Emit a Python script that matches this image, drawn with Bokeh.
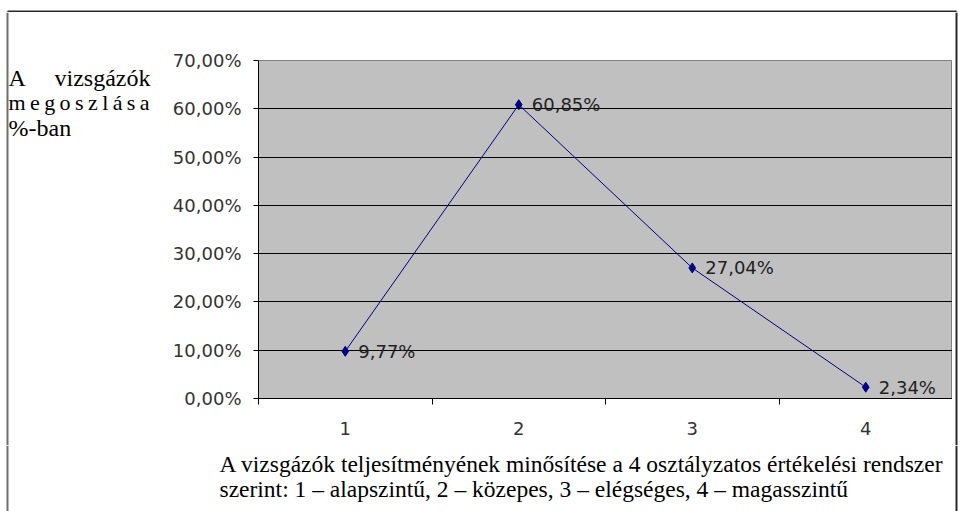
from bokeh.plotting import figure
from bokeh.layouts import column, row
from bokeh.models import Range1d, FixedTicker, ColumnDataSource
from bokeh.core.properties import value
from bokeh.embed import file_html
from bokeh.resources import INLINE

# ---- data ----
categories = [1, 2, 3, 4]
shares = [9.77, 60.85, 27.04, 2.34]
share_labels = ["9,77%", "60,85%", "27,04%", "2,34%"]
y_ticks = [0, 10, 20, 30, 40, 50, 60, 70]
y_tick_labels = ["0,00%", "10,00%", "20,00%", "30,00%", "40,00%", "50,00%", "60,00%", "70,00%"]
x_tick_labels = ["1", "2", "3", "4"]
y_title_words = ["A", "vizsgázók",
                 "\u2009".join("megoszlása"),
                 "%-ban"]
caption_lines = [
    "A vizsgázók teljesítményének minősítése a 4 osztályzatos értékelési rendszer",
    "szerint: 1 – alapszintű, 2 – közepes, 3 – elégséges, 4 – magasszintű",
]

W, H = 960, 511
TOP_H = 12          # strip holding the outer frame's top edge
MID_H = 433         # row with title + chart
CAP_H = H - TOP_H - MID_H
LEFT_W = 160
RIGHT_W = 8
MAIN_W = W - LEFT_W - RIGHT_W
FRAME_TOP, FRAME_BOTTOM = 60, 398   # chart plot area in page px
FRAME_LEFT = 258

BOX_L, BOX_R, BOX_T = 7, 956, 11
BOX_LEFT_COLOR, BOX_COLOR = "#6e6e6e", "#2a2a2a"
SERIF = "Liberation Serif"


def blank(w, h, y0, x0=0):
    """Plain drawing surface whose coordinates are page pixels (y downwards)."""
    f = figure(width=w, height=h, output_backend="svg", toolbar_location=None,
               x_range=Range1d(x0, x0 + w), y_range=Range1d(y0 + h, y0),
               x_axis_type=None, y_axis_type=None,
               min_border=0, min_border_left=0, min_border_right=0,
               min_border_top=0, min_border_bottom=0)
    f.frame_align = False
    f.outline_line_color = None
    f.grid.visible = False
    f.background_fill_color = "white"
    f.border_fill_color = "white"
    return f


def serif_text(f, xs, ys, texts, align="left", size="24px"):
    f.text(xs, ys, text=texts, text_align=align, text_baseline="alphabetic",
           text_font=value(SERIF), text_font_size=size, text_color="black")


# ---- top strip (outer frame top edge) ----
top = blank(W, TOP_H, 0)
top.line([BOX_L, BOX_R], [BOX_T, BOX_T], line_color=BOX_COLOR, line_width=2)
top.line([BOX_L, BOX_L], [BOX_T, TOP_H], line_color=BOX_LEFT_COLOR, line_width=2)
top.line([BOX_R, BOX_R], [BOX_T, TOP_H], line_color=BOX_COLOR, line_width=2)

# ---- left title ----
left = blank(LEFT_W, MID_H, TOP_H)
left.line([BOX_L, BOX_L], [TOP_H, TOP_H + MID_H], line_color=BOX_LEFT_COLOR, line_width=2)
serif_text(left, [8], [77], [y_title_words[0]])
serif_text(left, [150], [77], [y_title_words[1]], align="right")
serif_text(left, [8], [102], [y_title_words[2]], size="22px")
serif_text(left, [8], [127], [y_title_words[3]])

# ---- main chart ----
p = figure(width=MAIN_W, height=MID_H, output_backend="svg", toolbar_location=None,
           x_range=Range1d(0.5, 4.5), y_range=Range1d(0, 70),
           min_border_left=FRAME_LEFT - LEFT_W, min_border_right=0,
           min_border_top=FRAME_TOP - TOP_H,
           min_border_bottom=TOP_H + MID_H - FRAME_BOTTOM)
p.frame_align = False
p.background_fill_color = "#C0C0C0"
p.border_fill_color = "white"
p.outline_line_color = "#808080"

p.yaxis.ticker = FixedTicker(ticks=y_ticks)
p.yaxis.major_label_overrides = {t: s for t, s in zip(y_ticks, y_tick_labels)}
p.yaxis.major_tick_out = 5
p.yaxis.major_tick_in = 0
p.yaxis.minor_tick_out = 0
p.yaxis.minor_tick_in = 0
p.yaxis.major_label_standoff = 12
p.yaxis.axis_line_color = "black"
p.yaxis.major_tick_line_color = "black"

p.xaxis.ticker = FixedTicker(ticks=categories, minor_ticks=[0.5, 1.5, 2.5, 3.5, 4.5])
p.xaxis.major_label_overrides = {c: s for c, s in zip(categories, x_tick_labels)}
p.xaxis.major_tick_out = 0
p.xaxis.major_tick_in = 0
p.xaxis.minor_tick_out = 6
p.xaxis.minor_tick_in = 0
p.xaxis.minor_tick_line_color = "black"
p.xaxis.major_label_standoff = 17
p.xaxis.axis_line_color = "black"

for ax in (p.xaxis, p.yaxis):
    ax.major_label_text_font = "DejaVu Sans"
    ax.major_label_text_font_size = "18px"
    ax.major_label_text_color = "#333333"

p.xgrid.visible = False
p.ygrid.ticker = FixedTicker(ticks=y_ticks[1:-1])
p.ygrid.grid_line_color = "black"
p.ygrid.grid_line_width = 1

src = ColumnDataSource(dict(x=categories, y=shares, t=share_labels))
p.line("x", "y", source=src, line_color="#000080", line_width=1)
p.scatter("x", "y", source=src, marker="diamond", size=10,
          fill_color="#000080", line_color="#000080")
p.text("x", "y", text="t", source=src, x_offset=13, text_baseline="middle",
       text_font=value("DejaVu Sans"), text_font_size="18px", text_color="#222222")

# ---- right strip (outer frame right edge) ----
right = blank(RIGHT_W, MID_H, TOP_H, x0=W - RIGHT_W)
right.line([BOX_R, BOX_R], [TOP_H, TOP_H + MID_H], line_color=BOX_COLOR, line_width=2)

# ---- caption ----
cap = blank(W, CAP_H, TOP_H + MID_H)
cap.line([BOX_L, BOX_L], [TOP_H + MID_H, H], line_color=BOX_LEFT_COLOR, line_width=2)
cap.line([BOX_R, BOX_R], [TOP_H + MID_H, H], line_color=BOX_COLOR, line_width=2)
serif_text(cap, [219, 219], [463, 488], caption_lines, size="23.5px")

layout = column(top, row(left, p, right), cap)
open("out.html", "w").write(file_html(layout, INLINE))
